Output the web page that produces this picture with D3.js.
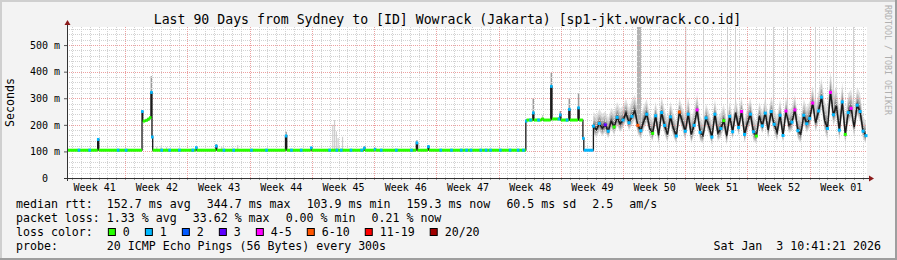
<!DOCTYPE html>
<html>
<head>
<meta charset="utf-8">
<script src="https://cdn.jsdelivr.net/npm/d3@7"></script>
<style>
html, body { margin: 0; padding: 0; background: #f3f3f3; }
svg { display: block; }
text { font-family: "DejaVu Sans Mono", monospace; white-space: pre; }
</style>
</head>
<body>
<svg width="897" height="260"></svg>
<script>
// time window: last 90 days ending at the graph timestamp
const endTime = new Date(2026, 0, 3, 10, 41, 21);
const startTime = new Date(2025, 9, 5, 10, 41, 21);

// quiet stretch (Oct - early Dec): step series, day offset from start -> median ms
const stepDays = [0, 3.45, 3.57, 8.44, 8.52, 8.8, 9.1, 9.3, 9.44, 9.56, 9.64, 14.48, 14.6, 16.74, 16.86,
  24.58, 24.72, 27.42, 27.54, 33.4, 33.52, 34.6, 34.72, 39.3, 39.44, 40.6, 40.72, 51.62, 51.7,
  52.4, 52.52, 53.4, 53.6, 54.42, 54.56, 55.44, 55.56, 56.45, 56.58, 57.48, 57.62, 58.04, 58.14];
const stepMs = [104.5, 145, 104.5, 250, 214, 217, 222, 227, 322, 154, 104.5, 114, 104.5, 120, 104.5,
  158, 104.5, 113, 104.5, 112, 104.5, 108, 104.5, 132, 104.5, 118, 104.5, 214, 218,
  245, 218, 222, 218, 344.7, 222, 237, 218, 258, 218, 264, 218, 149, 104.5];
const stepLoss = [0, 1, 0, 1, 0, 0, 0, 0, 1, 1, 0, 1, 0, 1, 0,
  1, 0, 1, 0, 1, 0, 1, 0, 1, 0, 1, 0, 1, 0,
  1, 0, 0, 0, 1, 0, 1, 0, 1, 0, 1, 0, 1, 1];
// single lost pings on the flat line (day offsets)
const blueDays = [1.2, 2.4, 5.6, 6.5, 10.5, 11.4, 12.5, 14.0, 17.5, 18.6, 20.6, 22.3, 25.1, 26.2, 29.4,
  30.2, 30.7, 31.8, 33.0, 35.2, 36.9, 38.6, 41.9, 43.1, 44.2, 44.8, 45.3, 46.4, 47.0, 47.5, 48.6,
  49.7, 50.6, 51.2, 52.0, 52.9, 55.2, 56.1];
// smoke tops above the quiet line [day, ms, 1 = under a median spike]
const spikeSmoke = [[3.5, 150, 1], [9.49, 383, 1], [10.1, 118, 0], [10.6, 121, 0], [11.2, 116, 0], [16.8, 128, 1],
  [17.4, 118, 0], [19.2, 124, 0], [24.65, 174, 1], [29.9, 200, 0], [30.1, 218, 0], [30.3, 176, 0], [30.5, 150, 0],
  [31.0, 155, 0], [33.45, 120, 1], [39.37, 142, 1], [40.66, 124, 1], [52.46, 300, 1], [53.5, 237, 0], [54.49, 396, 1],
  [55.5, 252, 1], [56.51, 300, 1], [57.55, 318, 1]];

// busy stretch: median every 8 hours from Dec 3 16:00
const wavyMs = [195,
  182, 205, 188, 200, 176, 214, 192, 228, 204, 218, 244, 208, 232, 252, 198,
  178, 214, 240, 186, 168, 234, 160, 246, 198, 164, 230, 186, 158, 248, 212,
  176, 240, 164, 198, 256, 172, 160, 226, 194, 154, 240, 170, 186, 216, 158,
  232, 174, 246, 190, 250, 164, 208, 240, 174, 158, 232, 196, 244, 180, 250,
  202, 172, 236, 160, 252, 198, 210, 256, 178, 166, 236, 204, 224, 282, 208,
  252, 304, 218, 186, 322, 238, 272, 180, 286, 164, 246, 262, 190, 274, 250,
  176, 159.3];
const wavyLoss = [1, null, 1, null, 3, 1, null, 0, 1, null,
  1, null, 1, 1, null, 10, 1, null, 1, null,
  0, 1, null, 1, 1, null, 1, null, 1, 10,
  null, 1, 1, null, 1, 5, 1, null, 1, null,
  1, 1, null, 1, 0, null, 1, 1, null, 1,
  5, 1, null, 1, 1, 0, null, 1, 1, null,
  1, 1, null, 1, 1, 5, null, 1, 5, 1,
  null, 1, 1, 1, 5, null, 1, 1, null, 1,
  5, 1, null, 1, 1, 0, 1, 5, null, 1,
  1, 1, 1];
// smoke spread (ms) per calendar day, Dec 3 .. Jan 3
const wavySpread = [30, 30, 28, 32, 30, 34, 32, 30, 34, 32, 30, 36, 34, 30, 32, 34,
  30, 32, 34, 30, 32, 34, 30, 32, 34, 36, 40, 44, 42, 40, 38, 30];
// full-height smoke streaks [day, duration in days]
const timeouts = [[64.12, 0.45], [69.55, 0.12], [71.55, 0.1], [74.25, 0.1], [75.15, 0.1], [78.52, 0.1],
  [79.42, 0.1], [81.0, 0.1], [84.15, 0.1], [86.18, 0.1], [88.43, 0.1]];

const yTicks = [0, 100, 200, 300, 400, 500];
const weekLabels = ["Week 41", "Week 42", "Week 43", "Week 44", "Week 45", "Week 46", "Week 47",
  "Week 48", "Week 49", "Week 50", "Week 51", "Week 52", "Week 01"];

const lossLevels = [0, 1, 2, 3, 5, 10, 19, 20];
const lossNames = ["0", "1", "2", "3", "4-5", "6-10", "11-19", "20/20"];
const lossColors = ["#26ff00", "#00b8ff", "#0059ff", "#5e00ff", "#ff00ff", "#ff5500", "#ff0000", "#a10000"];

const rttStats = ["152.7 ms avg", "344.7 ms max", "103.9 ms min", "159.3 ms now", "60.5 ms sd", "2.5", "am/s"];
const lossStats = ["1.33 % avg", "33.62 % max", "0.00 % min", "0.21 % now"];
const probeText = "20 ICMP Echo Pings (56 Bytes) every 300s";
const stampText = "Sat Jan\u00a0\u00a03 10:41:21 2026";
const titleText = "Last 90 Days from Sydney to [ID] Wowrack (Jakarta) [sp1-jkt.wowrack.co.id]";

// ---------------------------------------------------------------
const W = 897, H = 260;
const plot = { left: 67, right: 867, top: 27, bottom: 178 };
const svg = d3.select("svg");

const x = d3.scaleTime().domain([startTime, endTime]).range([plot.left, plot.right]);
const y = d3.scaleLinear().domain([0, 568]).range([plot.bottom, plot.top]);
const atDay = d => new Date(+startTime + d * 864e5);
const wavyTime = i => new Date(2025, 11, 3, 16 + 8 * i);
const colorOf = l => lossColors[lossLevels.indexOf(l)];

// background + 3d frame
svg.append("rect").attr("width", W).attr("height", H).attr("fill", "#f3f3f3");
svg.append("path").attr("d", `M0,0H${W}V2H2V${H}H0Z`).attr("fill", "#cfcfcf");
svg.append("path").attr("d", `M${W},${H}H0V${H - 2}H${W - 2}V0H${W}Z`).attr("fill", "#9e9e9e");
svg.append("rect").attr("x", plot.left).attr("y", plot.top)
  .attr("width", plot.right - plot.left).attr("height", plot.bottom - plot.top).attr("fill", "#ffffff");

// smoke in the busy stretch
const wavy = wavyMs.map((v, i) => ({ t: wavyTime(i), v, s: wavySpread[Math.floor((i + 2) / 3)], loss: wavyLoss[i] }));
const smokeLayers = [[1.0, 1.8, "#e2e2e2"], [0.8, 1.3, "#c4c4c4"], [0.55, 0.85, "#9f9f9f"], [0.3, 0.45, "#6e6e6e"]];
const gSmoke = svg.append("g");
smokeLayers.forEach(([lo, hi, c]) => {
  gSmoke.append("path").datum(wavy)
    .attr("fill", c)
    .attr("d", d3.area()
      .x(d => x(d.t))
      .y0(d => y(d.v - d.s * lo))
      .y1(d => y(Math.min(568, d.v + d.s * hi))));
});

// smoke spikes above the quiet line
const stepValueAt = d => stepMs[d3.bisectRight(stepDays, d) - 1];
gSmoke.selectAll("line.spk").data(spikeSmoke).join("line")
  .attr("x1", d => x(atDay(d[0]))).attr("x2", d => x(atDay(d[0])))
  .attr("y1", d => y(stepValueAt(d[0]))).attr("y2", d => y(d[1]))
  .attr("stroke", d => d[2] ? "#9a9a9a" : "#cdcdcd").attr("stroke-width", d => d[2] ? 1.5 : 1.2);

// full height streaks
const wavyAt = d => {
  const t = atDay(d);
  const i = Math.max(0, Math.min(wavy.length - 1, d3.bisector(p => p.t).left(wavy, t)));
  return wavy[i].v;
};
gSmoke.selectAll("rect.to").data(timeouts).join("rect")
  .attr("x", d => x(atDay(d[0])))
  .attr("width", d => Math.max(1, x(atDay(d[0] + d[1])) - x(atDay(d[0]))))
  .attr("y", plot.top)
  .attr("height", d => y(wavyAt(d[0])) - plot.top)
  .attr("fill", d => d[1] > 0.3 ? "#b2b2b2" : "#cfcfcf");

// grid
const gGrid = svg.append("g").attr("stroke-dasharray", "1,1").attr("shape-rendering", "crispEdges");
d3.timeDay.range(startTime, endTime).forEach(d => {
  const px = Math.round(x(d)) + 0.5;
  gGrid.append("line").attr("x1", px).attr("x2", px).attr("y1", plot.top).attr("y2", plot.bottom)
    .attr("stroke", "#d2d2d2");
});
d3.range(20, 568, 20).filter(v => v % 100 !== 0).forEach(v => {
  const py = Math.round(y(v)) + 0.5;
  gGrid.append("line").attr("x1", plot.left).attr("x2", plot.right).attr("y1", py).attr("y2", py)
    .attr("stroke", "#d2d2d2");
});
const sundays = d3.timeSunday.range(startTime, endTime);
sundays.forEach(d => {
  const px = Math.round(x(d)) + 0.5;
  gGrid.append("line").attr("x1", px).attr("x2", px).attr("y1", plot.top).attr("y2", plot.bottom)
    .attr("stroke", "#eca0a0");
});
yTicks.filter(v => v > 0).forEach(v => {
  const py = Math.round(y(v)) + 0.5;
  gGrid.append("line").attr("x1", plot.left).attr("x2", plot.right).attr("y1", py).attr("y2", py)
    .attr("stroke", "#eca0a0");
});

// median line (black)
const stepPts = stepDays.map((d, i) => ({ t: atDay(d), v: stepMs[i], loss: stepLoss[i] }));
const stepLinePts = stepPts.concat([{ t: wavy[0].t, v: wavy[0].v }]);
svg.append("path").datum(stepLinePts)
  .attr("fill", "none").attr("stroke", "#1a1a1a").attr("stroke-width", 1.3)
  .attr("d", d3.line().x(d => x(d.t)).y(d => y(d.v)).curve(d3.curveStepAfter));
svg.append("path").datum(wavy)
  .attr("fill", "none").attr("stroke", "#1a1a1a").attr("stroke-width", 1.4)
  .attr("d", d3.line().x(d => x(d.t)).y(d => y(d.v)));

// loss coloured band along the quiet line
const gBand = svg.append("g");
stepPts.forEach((p, i) => {
  const t2 = i < stepPts.length - 1 ? stepPts[i + 1].t : wavy[0].t;
  let x1 = x(p.t), x2 = x(t2);
  if (x2 - x1 < 2.5) { const c = (x1 + x2) / 2; x1 = c - 1.25; x2 = c + 1.25; }
  gBand.append("rect").attr("x", x1).attr("width", x2 - x1)
    .attr("y", y(p.v) - 1.5).attr("height", 3).attr("fill", colorOf(p.loss));
});
gBand.selectAll("rect.b").data(blueDays).join("rect")
  .attr("x", d => x(atDay(d)))
  .attr("width", d => x(atDay(d + 0.3)) - x(atDay(d)))
  .attr("y", d => y(stepValueAt(d)) - 1.5).attr("height", 3)
  .attr("fill", colorOf(1));

// loss dots in the busy stretch
svg.append("g").selectAll("rect").data(wavy.filter(d => d.loss !== null)).join("rect")
  .attr("x", d => x(d.t) - 1.5).attr("y", d => y(d.v) - 1.5)
  .attr("width", 3).attr("height", 3)
  .attr("fill", d => colorOf(d.loss));

// axes
const yAxis = svg.append("g").attr("transform", `translate(${plot.left},0)`)
  .call(d3.axisLeft(y).tickValues(yTicks).tickSize(3).tickPadding(4)
    .tickFormat(v => v === 0 ? "0  " : `${v} m`));
yAxis.select(".domain").remove();
yAxis.selectAll("text").attr("font-size", 10).attr("font-family", "DejaVu Sans Mono")
  .attr("fill", "#000").style("white-space", "pre");
yAxis.selectAll("line").attr("stroke", "#555");

const midWeeks = d3.timeSunday.range(d3.timeSunday.floor(startTime), endTime).map(d => d3.timeHour.offset(d, 84));
const xAxis = svg.append("g").attr("transform", `translate(0,${plot.bottom})`)
  .call(d3.axisBottom(x).tickValues(midWeeks).tickSize(0).tickPadding(6)
    .tickFormat((d, i) => weekLabels[i]));
xAxis.select(".domain").remove();
xAxis.selectAll("text").attr("font-size", 10).attr("font-family", "DejaVu Sans Mono").attr("fill", "#000");

// daily ticks under the x axis
svg.append("g").selectAll("line").data(d3.timeDay.range(startTime, endTime)).join("line")
  .attr("x1", d => Math.round(x(d)) + 0.5).attr("x2", d => Math.round(x(d)) + 0.5)
  .attr("y1", plot.bottom).attr("y2", plot.bottom + 2).attr("stroke", "#999");

// axis lines with arrows
svg.append("line").attr("x1", plot.left + 0.5).attr("x2", plot.left + 0.5)
  .attr("y1", plot.bottom + 3).attr("y2", plot.top - 3).attr("stroke", "#333");
svg.append("line").attr("x1", plot.left - 3).attr("x2", plot.right + 2)
  .attr("y1", plot.bottom + 0.5).attr("y2", plot.bottom + 0.5).attr("stroke", "#333");
svg.append("path").attr("d", `M${plot.left - 2.5},${plot.top - 2}L${plot.left + 3.5},${plot.top - 2}L${plot.left + 0.5},${plot.top - 7}Z`)
  .attr("fill", "#8b1a1a");
svg.append("path").attr("d", `M${plot.right + 2},${plot.bottom - 2.5}L${plot.right + 2},${plot.bottom + 3.5}L${plot.right + 7},${plot.bottom + 0.5}Z`)
  .attr("fill", "#8b1a1a");

// title and side labels
svg.append("text").attr("x", 447.5).attr("y", 24).attr("text-anchor", "middle")
  .attr("font-size", 13.2).attr("fill", "#000").text(titleText);
svg.append("text").attr("transform", `translate(14,${(plot.top + plot.bottom) / 2}) rotate(-90)`)
  .attr("text-anchor", "middle").attr("font-size", 11.6).attr("fill", "#000").text("Seconds");
svg.append("text").attr("transform", "translate(885,5) rotate(90)")
  .attr("font-size", 8.3).attr("fill", "#b0b0b0").text("RRDTOOL / TOBI OETIKER");

// legend
const cw = 6.99, lx = 16, vx = lx + 13 * cw, gap = 16;
const legend = svg.append("g").attr("font-size", 11.6).attr("fill", "#000");
function legendRow(label, items, baseY) {
  legend.append("text").attr("x", lx).attr("y", baseY).text(label);
  let cx = vx;
  items.forEach(s => {
    legend.append("text").attr("x", cx).attr("y", baseY).text(s);
    cx += s.length * cw + gap;
  });
}
legendRow("median rtt:", rttStats, 207.5);
legendRow("packet loss:", lossStats, 221.5);
legend.append("text").attr("x", lx).attr("y", 235.5).text("loss color:");
let bx = vx + 1;
lossNames.forEach((name, i) => {
  legend.append("rect").attr("x", bx + 0.5).attr("y", 228.5).attr("width", 7).attr("height", 7)
    .attr("fill", lossColors[i]).attr("stroke", "#000").attr("stroke-width", 1);
  legend.append("text").attr("x", bx + 15).attr("y", 235.5).text(name);
  bx += 15 + name.length * cw + 15;
});
legend.append("text").attr("x", lx).attr("y", 249.5).text("probe:");
legend.append("text").attr("x", vx).attr("y", 249.5).text(probeText);
legend.append("text").attr("x", 881).attr("y", 249.5).attr("text-anchor", "end").text(stampText);
</script>
</body>
</html>
